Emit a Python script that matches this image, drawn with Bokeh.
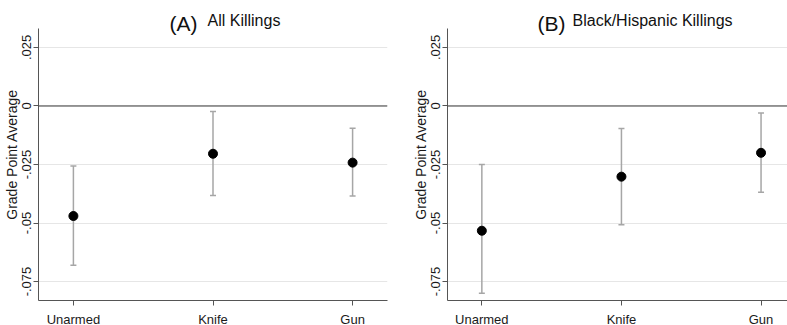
import math
from bokeh.plotting import figure
from bokeh.layouts import row
from bokeh.models import FixedTicker, Label, Span, ColumnDataSource
from bokeh.embed import file_html
from bokeh.resources import INLINE

# ---- data ----
categories = ["Unarmed", "Knife", "Gun"]
cat_pos = [1, 2, 3]

a_est = [-0.0470, -0.0204, -0.0242]
a_lo = [-0.0680, -0.0382, -0.0385]
a_hi = [-0.0256, -0.0024, -0.0095]

b_est = [-0.0533, -0.0302, -0.0200]
b_lo = [-0.0800, -0.0507, -0.0369]
b_hi = [-0.0250, -0.0096, -0.0030]

y_ticks = [0.025, 0.0, -0.025, -0.05, -0.075]
y_tick_labels = [".025", "0", "-.025", "-.05", "-.075"]

FONT = "Liberation Sans"
Y0, Y1 = -0.0831, 0.0331      # axis extent
PPU_Y = 2340.0                # px per unit (y)
PPU_X = 139.6                 # px per category (x)
TOP_PAD = 20                  # px of frame above the axis top (room for titles)
AXIS_TOP = 28                 # page y of the axis top


def panel(est, lo, hi, tag, title, frame_w, x0, bl, br, tag_px, title_px, frame_left):
    x1 = x0 + frame_w / PPU_X
    p = figure(frame_width=frame_w, frame_height=292,
               x_range=(x0, x1), y_range=(Y0, Y1 + TOP_PAD / PPU_Y),
               output_backend="svg", toolbar_location=None,
               min_border_left=bl, min_border_right=br,
               min_border_top=AXIS_TOP - TOP_PAD, min_border_bottom=25)
    p.outline_line_color = None
    p.background_fill_color = "white"
    p.border_fill_color = "white"
    p.xgrid.grid_line_color = None
    p.ygrid.ticker = FixedTicker(ticks=y_ticks)
    p.ygrid.grid_line_color = "#e6e6e6"
    p.ygrid.grid_line_width = 1

    # axes
    p.xaxis.ticker = FixedTicker(ticks=cat_pos)
    p.xaxis.major_label_overrides = {c: l for c, l in zip(cat_pos, categories)}
    p.yaxis.ticker = FixedTicker(ticks=y_ticks)
    p.yaxis.bounds = (Y0, Y1)
    p.yaxis.major_label_overrides = {t: l for t, l in zip(y_ticks, y_tick_labels)}
    p.yaxis.major_label_orientation = "parallel"
    p.yaxis.axis_label = "Grade Point Average"
    for ax in (p.xaxis, p.yaxis):
        ax.axis_line_color = "#555555"
        ax.major_tick_line_color = "#555555"
        ax.major_tick_out = 5
        ax.major_tick_in = 0
        ax.minor_tick_line_color = None
        ax.major_label_text_font = FONT
        ax.major_label_text_font_size = "13px"
        ax.major_label_text_color = "#1a1a1a"
    p.xaxis.major_label_standoff = 6
    p.yaxis.major_label_standoff = 2
    p.yaxis.axis_label_standoff = 0
    p.yaxis.axis_label_text_font = FONT
    p.yaxis.axis_label_text_font_size = "14px"
    p.yaxis.axis_label_text_font_style = "normal"
    p.yaxis.axis_label_text_color = "#1a1a1a"

    p.add_layout(Span(location=0, dimension="width", line_color="#3a3a3a", line_width=1.2))

    src = ColumnDataSource(dict(x=cat_pos, est=est, lo=lo, hi=hi))
    p.segment(x0="x", y0="lo", x1="x", y1="hi", source=src, line_color="#a6a6a6", line_width=1.5)
    p.scatter(x="x", y="lo", source=src, marker="dash", size=6, line_color="#a6a6a6", line_width=1.5)
    p.scatter(x="x", y="hi", source=src, marker="dash", size=6, line_color="#a6a6a6", line_width=1.5)
    p.scatter(x="x", y="est", source=src, marker="circle", size=9, fill_color="black", line_color="black")

    # panel titles (page-pixel positions converted to data units)
    p.add_layout(Label(x=x0 + (tag_px[0] - frame_left) / PPU_X, y=Y1 + (AXIS_TOP - tag_px[1]) / PPU_Y,
                       text=tag, text_font=FONT, text_font_size="21px", text_color="#111111",
                       text_baseline="alphabetic", text_align="left"))
    p.add_layout(Label(x=x0 + (title_px[0] - frame_left) / PPU_X, y=Y1 + (AXIS_TOP - title_px[1]) / PPU_Y,
                       text=title, text_font=FONT, text_font_size="16px", text_color="#111111",
                       text_baseline="alphabetic", text_align="left"))
    return p


pA = panel(a_est, a_lo, a_hi, "(A)", "All Killings", 349, 0.75, 36, 15,
           (167, 22.5), (205, 19.5), 36)
pB = panel(b_est, b_lo, b_hi, "(B)", "Black/Hispanic Killings", 342, 0.754, 45, 0,
           (535, 22.5), (570, 19.5), 445)

layout = row(pA, pB)
open("out.html", "w").write(file_html(layout, INLINE))
